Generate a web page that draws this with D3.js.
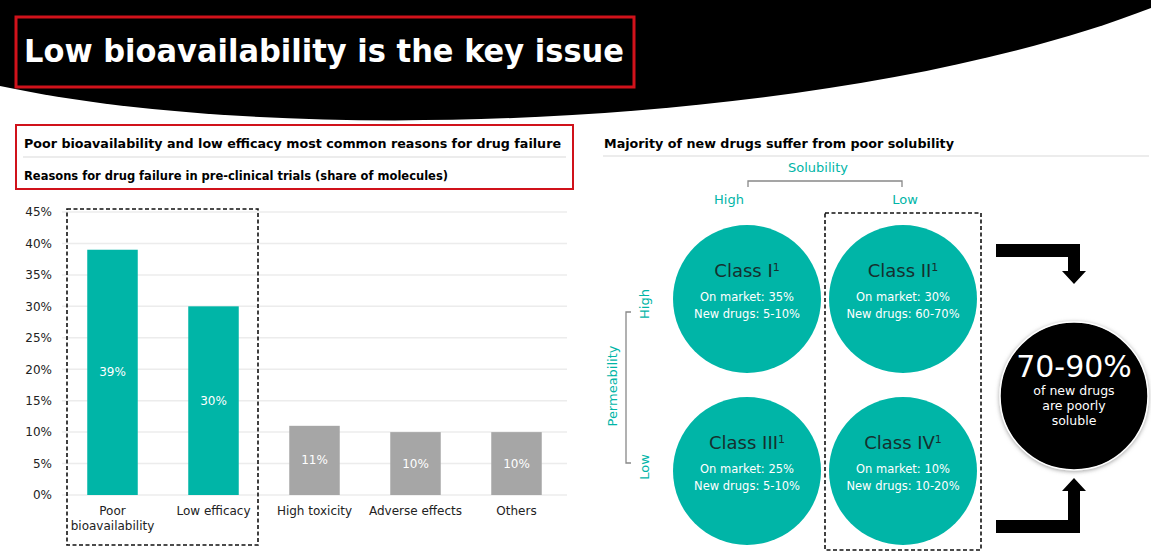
<!DOCTYPE html>
<html>
<head>
<meta charset="utf-8">
<title>Low bioavailability is the key issue</title>
<script src="https://d3js.org/d3.v7.min.js"></script>
<style>
  body { margin: 0; background: #fff; }
  svg { display: block; font-family: "DejaVu Sans", Verdana, sans-serif; }
</style>
</head>
<body>
<div id="container"></div>
<script>
// ---------------- DATA ----------------
var categories = ["Poor bioavailability", "Low efficacy", "High toxicity", "Adverse effects", "Others"];
var values = [39, 30, 11, 10, 10];
var highlighted = [true, true, false, false, false];
var yTicks = [0, 5, 10, 15, 20, 25, 30, 35, 40, 45];

var solubilityLevels = ["High", "Low"];
var permeabilityLevels = ["High", "Low"];
var classNames = ["Class I", "Class II", "Class III", "Class IV"];
var classSolubility = ["High", "Low", "High", "Low"];
var classPermeability = ["High", "High", "Low", "Low"];
var onMarket = ["35%", "30%", "25%", "10%"];
var newDrugs = ["5-10%", "60-70%", "5-10%", "10-20%"];

var teal = "#00b5a7", gray = "#a6a6a6", red = "#d0121b";

var W = 1151, H = 556;
var svg = d3.select("#container").append("svg").attr("width", W).attr("height", H);

var defs = svg.append("defs");
var f = defs.append("filter").attr("id", "glow").attr("x", "-20%").attr("y", "-20%").attr("width", "140%").attr("height", "140%");
f.append("feDropShadow").attr("dx", 0).attr("dy", 1).attr("stdDeviation", 2).attr("flood-color", "#777").attr("flood-opacity", 0.7);

//---------------- HEADER ----------------
svg.append("path")
  .attr("d", "M0,0 H1151 V8 C850,125 300,150 0,86 Z")
  .attr("fill", "#000");

svg.append("rect").attr("x", 16).attr("y", 17).attr("width", 618).attr("height", 70)
  .attr("fill", "none").attr("stroke", red).attr("stroke-width", 3);

svg.append("text").attr("x", 24).attr("y", 62)
  .attr("fill", "#fff").attr("font-weight", "bold").attr("font-size", 32)
  .attr("textLength", 600).attr("lengthAdjust", "spacingAndGlyphs")
  .text("Low bioavailability is the key issue");

//---------------- LEFT PANEL ----------------
svg.append("rect").attr("x", 16).attr("y", 125).attr("width", 557).attr("height", 64)
  .attr("fill", "none").attr("stroke", red).attr("stroke-width", 2);
svg.append("text").attr("x", 24).attr("y", 148).attr("font-weight", "bold").attr("font-size", 12.5)
  .attr("textLength", 537).attr("lengthAdjust", "spacingAndGlyphs")
  .text("Poor bioavailability and low efficacy most common reasons for drug failure");
svg.append("line").attr("x1", 23).attr("x2", 566).attr("y1", 157).attr("y2", 157)
  .attr("stroke", "#d9d9d9").attr("stroke-width", 1);
svg.append("text").attr("x", 24).attr("y", 180).attr("font-weight", "bold").attr("font-size", 11.5)
  .attr("textLength", 424).attr("lengthAdjust", "spacingAndGlyphs")
  .text("Reasons for drug failure in pre-clinical trials (share of molecules)");

var x = d3.scaleBand().domain(categories).range([62, 567]).paddingInner(0.5).paddingOuter(0.25);
var y = d3.scaleLinear().domain([0, 45]).range([495, 212]);

var chart = svg.append("g");

chart.selectAll(".grid").data(yTicks).enter().append("line")
  .attr("x1", 62).attr("x2", 567)
  .attr("y1", function (d) { return y(d); }).attr("y2", function (d) { return y(d); })
  .attr("stroke", "#ececec").attr("stroke-width", 1.5);

var yAxis = chart.append("g").attr("transform", "translate(56,0)")
  .call(d3.axisLeft(y).tickValues(yTicks).tickSize(0).tickPadding(4).tickFormat(function (d) { return d + "%"; }));
yAxis.select(".domain").remove();
yAxis.selectAll("text").attr("font-size", 12).attr("fill", "#222")
  .attr("font-family", "DejaVu Sans, Verdana, sans-serif");

chart.selectAll(".bar").data(values).enter().append("rect")
  .attr("x", function (d, i) { return x(categories[i]); })
  .attr("width", x.bandwidth())
  .attr("y", function (d) { return y(d); })
  .attr("height", function (d) { return y(0) - y(d); })
  .attr("fill", function (d, i) { return highlighted[i] ? teal : gray; });

chart.selectAll(".val").data(values).enter().append("text")
  .attr("x", function (d, i) { return x(categories[i]) + x.bandwidth() / 2; })
  .attr("y", function (d) { return (y(d) + y(0)) / 2 + 4; })
  .attr("text-anchor", "middle").attr("fill", "#fff").attr("font-size", 12)
  .text(function (d) { return d + "%"; });

var xl = chart.selectAll(".xl").data(categories).enter().append("text")
  .attr("x", function (d) { return x(d) + x.bandwidth() / 2; })
  .attr("y", 515).attr("text-anchor", "middle").attr("font-size", 12).attr("fill", "#222");
xl.each(function (d) {
  var t = d3.select(this);
  var parts = d === "Poor bioavailability" ? ["Poor", "bioavailability"] : [d];
  parts.forEach(function (p, k) {
    t.append("tspan").attr("x", x(d) + x.bandwidth() / 2).attr("dy", k ? 15 : 0).text(p);
  });
});

svg.append("rect").attr("x", 67).attr("y", 209).attr("width", 191).attr("height", 336)
  .attr("fill", "none").attr("stroke", "#111").attr("stroke-width", 1.6).attr("stroke-dasharray", "4,2.5");

//---------------- RIGHT PANEL ----------------
svg.append("text").attr("x", 604).attr("y", 148).attr("font-weight", "bold").attr("font-size", 12.5)
  .attr("textLength", 350).attr("lengthAdjust", "spacingAndGlyphs")
  .text("Majority of new drugs suffer from poor solubility");
svg.append("line").attr("x1", 603).attr("x2", 1149).attr("y1", 156).attr("y2", 156)
  .attr("stroke", "#d9d9d9").attr("stroke-width", 1);

var sx = d3.scalePoint().domain(solubilityLevels).range([747, 903]);
var py = d3.scalePoint().domain(permeabilityLevels).range([299, 471]);
var rad = 74;

// solubility bracket
svg.append("text").attr("x", 818).attr("y", 172).attr("text-anchor", "middle")
  .attr("fill", teal).attr("font-size", 13).text("Solubility");
svg.append("path").attr("d", "M748,187 V181 H902 V187")
  .attr("fill", "none").attr("stroke", "#888").attr("stroke-width", 1.3);
svg.selectAll(".sl").data(solubilityLevels).enter().append("text")
  .attr("x", function (d) { return sx(d) + (d === "High" ? -18 : 2); })
  .attr("y", 204).attr("text-anchor", "middle").attr("fill", teal).attr("font-size", 13)
  .text(function (d) { return d; });

// permeability bracket
svg.append("path").attr("d", "M631,312 H626 V463 H631")
  .attr("fill", "none").attr("stroke", "#888").attr("stroke-width", 1.3);
svg.append("text").attr("transform", "translate(617,386) rotate(-90)").attr("text-anchor", "middle")
  .attr("fill", teal).attr("font-size", 13).text("Permeability");
svg.selectAll(".pl").data(permeabilityLevels).enter().append("text")
  .attr("transform", function (d) { return "translate(649," + (d === "High" ? 304 : 467) + ") rotate(-90)"; })
  .attr("text-anchor", "middle").attr("fill", teal).attr("font-size", 13)
  .text(function (d) { return d; });

// class circles
var cls = svg.selectAll(".cls").data(classNames).enter().append("g")
  .attr("transform", function (d, i) { return "translate(" + sx(classSolubility[i]) + "," + py(classPermeability[i]) + ")"; });
cls.append("circle").attr("r", rad).attr("fill", teal);
var ct = cls.append("text").attr("y", -22).attr("text-anchor", "middle").attr("fill", "#16302f").attr("font-size", 18);
ct.append("tspan").text(function (d) { return d; });
ct.append("tspan").attr("font-size", 11).attr("dy", -6).text("1");
cls.append("text").attr("y", 2).attr("text-anchor", "middle").attr("fill", "#fff").attr("font-size", 11.5)
  .text(function (d, i) { return "On market: " + onMarket[i]; });
cls.append("text").attr("y", 19).attr("text-anchor", "middle").attr("fill", "#fff").attr("font-size", 11.5)
  .text(function (d, i) { return "New drugs: " + newDrugs[i]; });

svg.append("rect").attr("x", 825).attr("y", 213).attr("width", 156).attr("height", 337)
  .attr("fill", "none").attr("stroke", "#111").attr("stroke-width", 1.6).attr("stroke-dasharray", "4,2.5");

// arrows
svg.append("path").attr("d", "M996,244 H1080 V271 H1086 L1074,284 L1062,271 H1068 V257 H996 Z").attr("fill", "#000");
svg.append("path").attr("d", "M996,533 H1080 V491 H1086 L1074,478 L1062,491 H1068 V520 H996 Z").attr("fill", "#000");

// summary circle
var sc = svg.append("g").attr("transform", "translate(1074,396)");
sc.append("circle").attr("r", 74).attr("fill", "#000").attr("stroke", "#fff").attr("stroke-width", 1.5).attr("filter", "url(#glow)");
sc.append("text").attr("y", -19).attr("text-anchor", "middle").attr("fill", "#fff").attr("font-size", 30).text("70-90%");
sc.append("text").attr("y", -1).attr("text-anchor", "middle").attr("fill", "#fff").attr("font-size", 12.5).text("of new drugs");
sc.append("text").attr("y", 14).attr("text-anchor", "middle").attr("fill", "#fff").attr("font-size", 12.5).text("are poorly");
sc.append("text").attr("y", 29).attr("text-anchor", "middle").attr("fill", "#fff").attr("font-size", 12.5).text("soluble");
</script>
</body>
</html>
